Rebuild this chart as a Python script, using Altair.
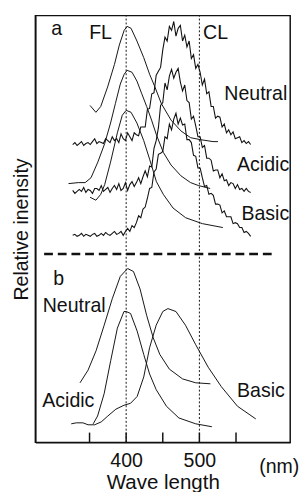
import altair as alt
import pandas as pd

FONT = "Liberation Sans, Arial, Helvetica, sans-serif"
INK = "#111111"

# ---------------- data (wavelength in nm, intensity in arbitrary units) ----------------
CL_NM = [327, 330, 333, 336, 339, 342, 345, 348, 351, 354, 357, 360, 363, 366, 369, 372,
         375, 378, 381, 384, 387, 390, 393, 396, 399, 402, 405, 408, 411, 414, 417, 420,
         423, 426, 429, 432, 435, 438, 441, 444, 447, 450, 453, 456, 459, 462, 465, 468,
         471, 474, 477, 480, 483, 486, 489, 492, 495, 498, 501, 504, 507, 510, 513, 516,
         519, 522, 525, 528, 531, 534, 537, 540, 543, 546, 549, 552, 555, 558, 561, 564,
         567, 570]

CL_NEUTRAL = [305, 307, 304, 306, 308, 304, 306, 307, 305, 308, 311, 306, 308, 307, 306, 311,
              309, 307, 313, 309, 311, 307, 316, 311, 309, 317, 313, 309, 317, 315, 314, 323,
              323, 323, 341, 342, 357, 358, 376, 380, 384, 402, 415, 411, 426, 422, 431, 416,
              424, 427, 411, 417, 405, 411, 393, 397, 383, 387, 379, 366, 372, 357, 359, 344,
              344, 332, 334, 333, 323, 326, 317, 320, 315, 318, 311, 312, 313, 307, 309, 306,
              308, 305]

CL_ACIDIC = [258, 255, 257, 259, 257, 261, 256, 259, 258, 255, 260, 260, 258, 263, 257, 259,
             261, 256, 260, 263, 259, 265, 258, 260, 266, 258, 264, 267, 262, 266, 271, 265,
             272, 278, 272, 283, 282, 301, 309, 322, 345, 348, 368, 361, 375, 382, 373, 379,
             383, 369, 360, 366, 350, 348, 331, 334, 324, 313, 313, 302, 304, 291, 291, 289,
             278, 279, 279, 271, 275, 268, 269, 263, 266, 265, 260, 264, 259, 260, 257, 260,
             257, 256]

CL_BASIC = [212, 213, 211, 212, 214, 211, 213, 212, 211, 213, 214, 211, 212, 214, 212, 215,
            213, 212, 214, 216, 213, 214, 216, 212, 216, 219, 216, 222, 220, 225, 232, 230,
            239, 241, 250, 260, 261, 277, 280, 295, 296, 298, 313, 311, 326, 320, 331, 337,
            326, 332, 325, 326, 310, 310, 307, 294, 293, 281, 281, 271, 262, 263, 254, 255,
            253, 244, 244, 243, 235, 237, 231, 231, 231, 224, 225, 224, 220, 220, 215, 216,
            214, 211]

FL_NEUTRAL_NM = [350.7, 358.7, 365.3, 374.7, 384, 390.7, 397.3, 401.3, 406.7, 414.7, 424,
                 432, 438.7, 448, 461.3, 474.7, 488, 501.3, 518.7, 525.3]
FL_NEUTRAL = [345, 338, 344, 364, 387, 407, 422, 426, 424, 411, 394,
              377, 365, 347, 330, 319, 312, 310, 308, 308]

FL_ACIDIC_NM = [321.3, 334.7, 344, 352, 361.3, 370.7, 378.7, 385.3, 392, 397.3, 401.3, 408,
                414.7, 421.3, 428, 434.7, 441.3, 450.7, 461.3, 474.7, 488, 498.7, 514.7]
FL_ACIDIC = [265, 266, 266, 271, 287, 306, 327, 347, 367, 377, 381, 379,
             370, 357, 344, 330, 315, 297, 284, 273, 266, 263, 260]

FL_BASIC_NM = [350.7, 358.7, 365.3, 370.7, 378.7, 388, 394.7, 400, 406.7, 414.7, 424, 432,
               437.3, 441.3, 450.7, 464, 481.3, 504, 532]
FL_BASIC = [251, 248, 254, 264, 287, 317, 335, 340, 338, 327, 309, 290,
            277, 267, 254, 240, 230, 224, 220]

B_NEUTRAL_NM = [337, 348, 359, 370, 381, 392, 402, 410, 419, 428, 437, 446, 459, 477, 495, 515]
B_NEUTRAL = [61, 74, 94, 120, 147, 170, 178, 175, 157, 130, 107, 90, 75, 65, 61, 60]

B_ACIDIC_NM = [355, 361, 370, 379, 388, 397, 400, 406, 415, 424, 432, 441, 455, 472, 495, 517]
B_ACIDIC = [19, 27, 50, 84, 117, 134, 134, 132, 114, 90, 70, 54, 37, 25, 19, 16]

B_BASIC_NM = [325, 332, 341, 348, 357, 366, 375, 386, 397, 406, 415, 424, 432, 441, 450, 457,
              468, 481, 495, 512, 530, 552, 577]
B_BASIC = [19, 20, 20, 18, 18, 21, 27, 34, 38, 40, 47, 67, 97, 120, 134, 137,
           134, 120, 100, 77, 57, 37, 24]

LABEL_TEXT = ["a", "FL", "CL", "Neutral", "Acidic", "Basic", "b", "Neutral", "Acidic", "Basic", "(nm)"]
LABEL_NM = [305, 365, 522, 577, 587, 590, 308, 329, 321, 584, 609]
LABEL_VAL = [423, 419, 419, 357, 284, 234, 167, 139, 42, 52, -25]

GUIDE_NM = [400, 500]           # dotted guide lines (FL / CL)
TICK_NM = [350, 400, 450, 500, 550]
TICK_LABELS = [400, 500]
SEPARATOR = {"nm": 288, "nm2": 600, "val": 193}
Y_TOP = 437

# ---------------- tables ----------------
def series(name, xs, ys):
    return pd.DataFrame({"nm": xs, "val": ys, "series": name})

smooth = pd.concat([
    series("FL neutral", FL_NEUTRAL_NM, FL_NEUTRAL),
    series("FL acidic", FL_ACIDIC_NM, FL_ACIDIC),
    series("FL basic", FL_BASIC_NM, FL_BASIC),
    series("b neutral", B_NEUTRAL_NM, B_NEUTRAL),
    series("b acidic", B_ACIDIC_NM, B_ACIDIC),
    series("b basic", B_BASIC_NM, B_BASIC),
])
noisy = pd.concat([
    series("CL neutral", CL_NM, CL_NEUTRAL),
    series("CL acidic", CL_NM, CL_ACIDIC),
    series("CL basic", CL_NM, CL_BASIC),
])
labels = pd.DataFrame({"nm": LABEL_NM, "val": LABEL_VAL, "text": LABEL_TEXT})
guides = pd.DataFrame({"nm": GUIDE_NM, "y0": [0] * len(GUIDE_NM), "y1": [Y_TOP] * len(GUIDE_NM)})
ticks = pd.DataFrame({"nm": TICK_NM, "y0": [0] * len(TICK_NM), "y1": [10] * len(TICK_NM)})
sep = pd.DataFrame([SEPARATOR])

xs = alt.Scale(domain=[276, 624], nice=False, zero=False)
ys = alt.Scale(domain=[0, Y_TOP], nice=False, zero=False)

x_axis = alt.Axis(values=TICK_LABELS, title="Wave length", grid=False, ticks=False, tickSize=0,
                  labelFontSize=20, titleFontSize=21, labelFont=FONT, titleFont=FONT,
                  labelColor=INK, titleColor=INK, titleFontWeight="normal",
                  labelPadding=9, titlePadding=1, domainColor=INK, domainWidth=1.5,
                  labelFlush=False)
y_axis = alt.Axis(title="Relative inensity", labels=False, ticks=False, grid=False,
                  titleFontSize=20, titleFont=FONT, titleColor=INK, titleFontWeight="normal",
                  titlePadding=4, domainColor=INK, domainWidth=1.5)

smooth_layer = alt.Chart(smooth).mark_line(color=INK, strokeWidth=1).encode(
    x=alt.X("nm:Q", scale=xs, axis=x_axis),
    y=alt.Y("val:Q", scale=ys, axis=y_axis),
    detail="series:N",
)
noisy_layer = alt.Chart(noisy).mark_line(color=INK, strokeWidth=1.1).encode(
    x=alt.X("nm:Q", scale=xs), y=alt.Y("val:Q", scale=ys), detail="series:N",
)
guide_layer = alt.Chart(guides).mark_rule(color=INK, strokeWidth=1, strokeDash=[2, 2]).encode(
    x=alt.X("nm:Q", scale=xs), y=alt.Y("y0:Q", scale=ys), y2="y1:Q",
)
tick_layer = alt.Chart(ticks).mark_rule(color=INK, strokeWidth=1.5).encode(
    x=alt.X("nm:Q", scale=xs), y=alt.Y("y0:Q", scale=ys), y2="y1:Q",
)
sep_layer = alt.Chart(sep).mark_rule(color=INK, strokeWidth=2.5, strokeDash=[9, 5]).encode(
    x=alt.X("nm:Q", scale=xs), x2="nm2:Q", y=alt.Y("val:Q", scale=ys),
)
text_layer = alt.Chart(labels).mark_text(font=FONT, fontSize=20, color=INK, baseline="middle",
                                         align="center").encode(
    x=alt.X("nm:Q", scale=xs), y=alt.Y("val:Q", scale=ys), text="text:N",
)

chart = alt.layer(
    guide_layer, tick_layer, sep_layer, smooth_layer, noisy_layer, text_layer
).properties(
    width=261, height=437,
    autosize=alt.AutoSizeParams(type="none"),
    padding={"left": 28, "top": 2, "right": 9, "bottom": 45},
).configure_view(stroke=INK, strokeWidth=1.5)

chart.save("out.html", embed_options={"renderer": "svg", "actions": False})
